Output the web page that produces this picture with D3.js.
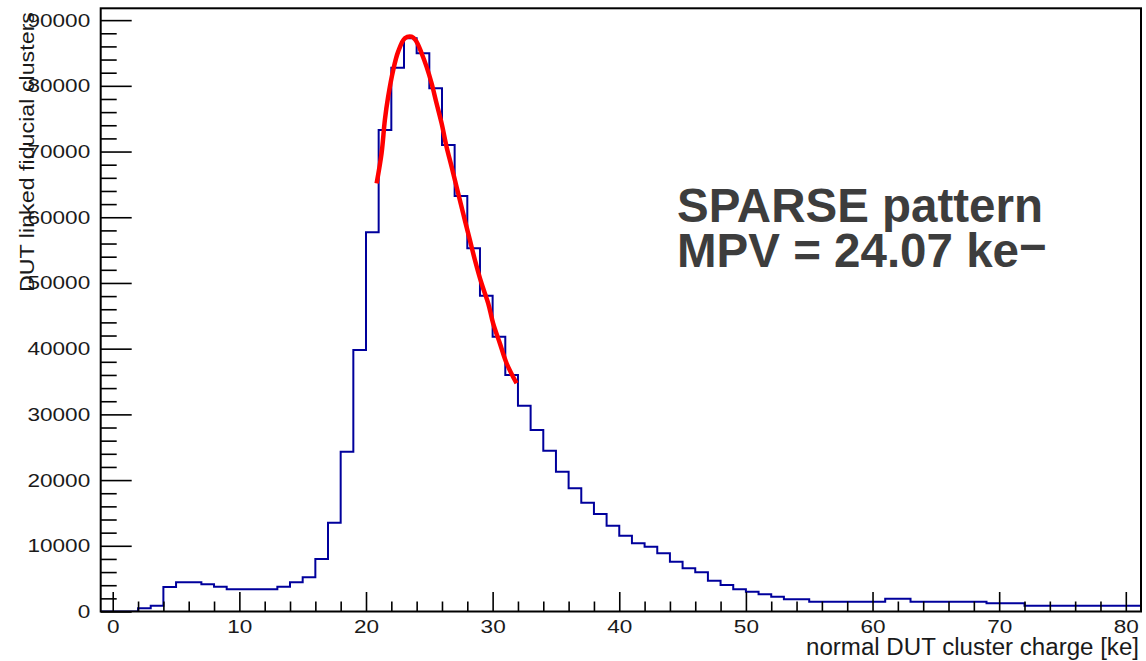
<!DOCTYPE html>
<html>
<head>
<meta charset="utf-8">
<script src="https://cdn.jsdelivr.net/npm/d3@7"></script>
<style>
    body { margin: 0; background: #ffffff; }
    text { font-family: "Liberation Sans", Arial, sans-serif; }
</style>
</head>
<body>
<svg id="chart" width="1146" height="661"></svg>
<script>
// histogram: low edge of each 1 ke bin and its content
const binLow = d3.range(-1, 82);
const counts = [
    0, 0, 0, 490, 880, 3730, 4440, 4440, 4140, 3780,
    3380, 3380, 3380, 3380, 3780, 4440, 5200, 7990, 13500, 24300,
    39800, 57710, 73290, 82770, 87240, 84960, 79630, 71000, 63240, 55280,
    48070, 41830, 36000, 31320, 27620, 24480, 21280, 18750, 16560, 14840,
    13060, 11540, 10380, 9860, 8860, 7580, 6570, 5970, 4690, 4030,
    3380, 3010, 2620, 2250, 1860, 1860, 1490, 1490, 1490, 1490,
    1490, 1490, 1950, 1950, 1490, 1490, 1490, 1490, 1490, 1490,
    1250, 1250, 1250, 880, 880, 880, 880, 880, 880, 880,
    880, 880, 880
];

// fitted curve
const fitX = [20.84, 21.23, 21.49, 21.75, 22.15, 22.54, 23.07, 23.6, 23.99, 24.39,
    24.78, 25.18, 25.57, 25.97, 26.36, 26.76, 27.15, 27.67, 28.2, 28.6,
    29.12, 29.65, 30.04, 30.57, 31.1, 31.89];
const fitY = [65170, 69740, 74800, 78350, 82410, 85200, 87240, 87480, 86720, 84960,
    82920, 80390, 77350, 74300, 70740, 67700, 64650, 60600, 56550, 53500,
    49950, 46910, 43860, 40820, 37780, 34730];

const yMajor = [0, 10000, 20000, 30000, 40000, 50000, 60000, 70000, 80000, 90000];
const xMajor = [0, 10, 20, 30, 40, 50, 60, 70, 80];

const xTitle = "normal DUT cluster charge [ke]";
const yTitle = "DUT linked fiducial clusters";

const frame = {left: 100.7, right: 1141, top: 8.3, bottom: 611.5};
const labelStretch = 1.22;

const svg = d3.select("#chart");

const x = d3.scaleLinear().domain([-0.95, 81.2]).range([frame.left, frame.right]);
const y = d3.scaleLinear().domain([0, 91800]).range([frame.bottom, frame.top]);

svg.append("clipPath").attr("id", "frameClip")
    .append("rect")
    .attr("x", frame.left).attr("y", frame.top)
    .attr("width", frame.right - frame.left)
    .attr("height", frame.bottom - frame.top);

// histogram outline
const histPts = binLow.map((b, i) => [b, counts[i]]);
histPts.push([binLow[binLow.length - 1] + 1, counts[counts.length - 1]]);

svg.append("path")
    .datum(histPts)
    .attr("clip-path", "url(#frameClip)")
    .attr("fill", "none")
    .attr("stroke", "#00009c")
    .attr("stroke-width", 2)
    .attr("d", d3.line()
        .x(d => x(d[0]))
        .y(d => y(d[1]))
        .curve(d3.curveStepAfter));

// fit
svg.append("path")
    .datum(fitX.map((v, i) => [v, fitY[i]]))
    .attr("fill", "none")
    .attr("stroke", "#ff0000")
    .attr("stroke-width", 4.5)
    .attr("stroke-linejoin", "round")
    .attr("d", d3.line()
        .x(d => x(d[0]))
        .y(d => y(d[1]))
        .curve(d3.curveCatmullRom));

// axes (ROOT style, ticks pointing inwards)
const yMinor = d3.range(2000, 91000, 2000).filter(v => v % 10000 !== 0);
const xMinor = d3.range(2, 81, 2).filter(v => v % 10 !== 0);

function styleAxis(g) {
    g.select(".domain").remove();
    g.selectAll("line").attr("stroke", "#000").attr("stroke-width", 1.6);
    g.selectAll("text")
        .attr("fill", "#1a1a1a")
        .style("font-size", "18.5px");
}

svg.append("g")
    .attr("transform", `translate(${frame.left},0)`)
    .call(d3.axisLeft(y).tickValues(yMinor).tickSize(-16).tickFormat(""))
    .call(styleAxis);

const yAx = svg.append("g")
    .attr("transform", `translate(${frame.left},0)`)
    .call(d3.axisLeft(y).tickValues(yMajor).tickSize(-31).tickSizeOuter(0)
        .tickPadding(10.5).tickFormat(d3.format("d")))
    .call(styleAxis);

yAx.selectAll("text").each(function () {
    const t = d3.select(this);
    const tx = +t.attr("x");
    t.attr("x", 0).attr("transform", `translate(${tx},0) scale(${labelStretch},1)`);
});

svg.append("g")
    .attr("transform", `translate(0,${frame.bottom})`)
    .call(d3.axisBottom(x).tickValues(xMinor).tickSize(-10).tickFormat(""))
    .call(styleAxis);

const xAx = svg.append("g")
    .attr("transform", `translate(0,${frame.bottom})`)
    .call(d3.axisBottom(x).tickValues(xMajor).tickSize(-19.5).tickSizeOuter(0)
        .tickPadding(8.5).tickFormat(d3.format("d")))
    .call(styleAxis);

xAx.selectAll("text")
    .attr("x", 0)
    .attr("transform", `scale(${labelStretch},1)`);

// frame
svg.append("rect")
    .attr("x", frame.left).attr("y", frame.top)
    .attr("width", frame.right - frame.left)
    .attr("height", frame.bottom - frame.top)
    .attr("fill", "none")
    .attr("stroke", "#000")
    .attr("stroke-width", 2);

// axis titles
svg.append("text")
    .attr("x", 1139).attr("y", 655)
    .attr("text-anchor", "end")
    .attr("textLength", 333)
    .attr("lengthAdjust", "spacingAndGlyphs")
    .attr("fill", "#1a1a1a")
    .style("font-size", "23px")
    .text(xTitle);

svg.append("text")
    .attr("transform", "translate(33.5,12) rotate(-90)")
    .attr("text-anchor", "end")
    .attr("textLength", 280)
    .attr("lengthAdjust", "spacingAndGlyphs")
    .attr("fill", "#1a1a1a")
    .style("font-size", "21px")
    .text(yTitle);

// annotation
const note = svg.append("g")
    .attr("fill", "#3d3d3d")
    .style("font-size", "47.5px")
    .style("font-weight", "bold");

note.append("text")
    .attr("x", 677).attr("y", 221.7)
    .text("SPARSE pattern");

const mpv = note.append("text")
    .attr("x", 677).attr("y", 266.7);
mpv.append("tspan").text("MPV = 24.07 ke");
mpv.append("tspan").attr("dy", -4).text("\u2212");
</script>
</body>
</html>
